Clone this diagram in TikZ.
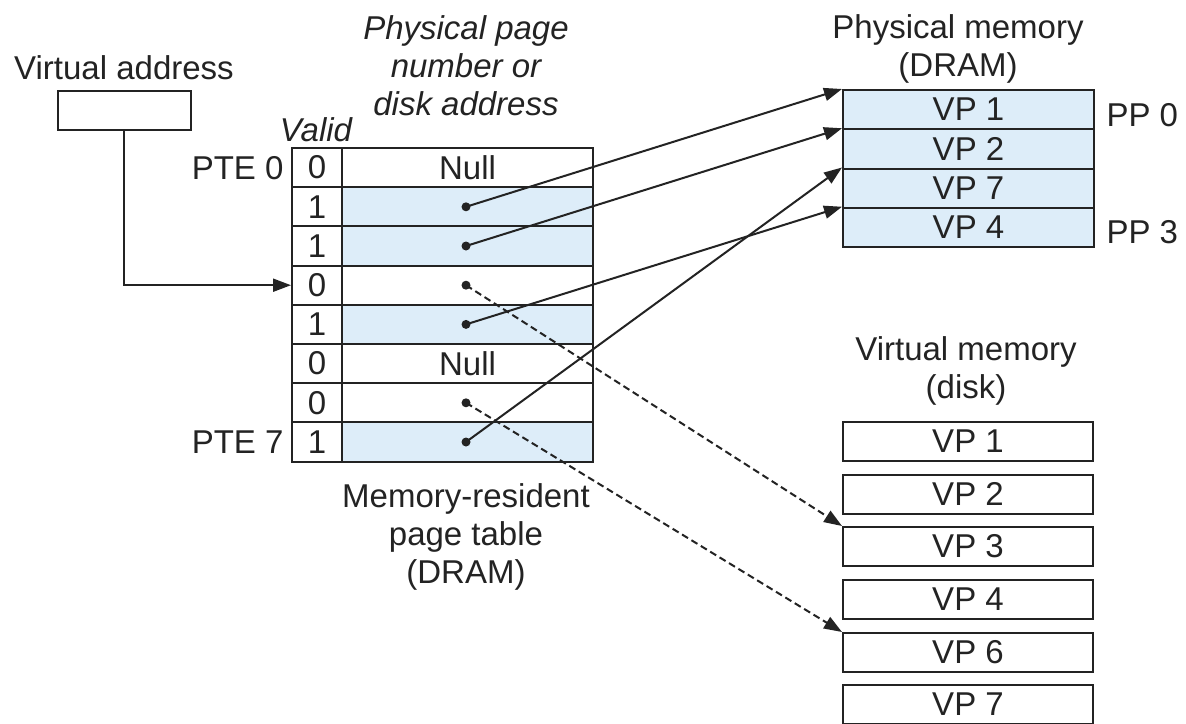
\documentclass[tikz,border=0pt]{standalone}
\usepackage{fontspec}
\setmainfont{Liberation Sans}
\usetikzlibrary{arrows.meta}
\definecolor{cellblue}{RGB}{221,237,249}
\definecolor{ink}{RGB}{35,35,35}
\begin{document}
\begin{tikzpicture}[x=1pt,y=-1pt,
  every node/.style={font=\fontsize{33}{38}\selectfont, text=ink},
  cell/.style={draw=ink, line width=2pt, inner sep=0pt, minimum height=39.2pt},
  vcell/.style={cell, minimum width=50pt},
  acell/.style={cell, minimum width=251pt},
  fcell/.style={acell, fill=cellblue},
  pmem/.style={cell, fill=cellblue, minimum width=251pt, minimum height=39.25pt},
  dmem/.style={cell, minimum width=250pt, minimum height=39pt},
  dot/.style={circle, fill=ink, inner sep=0pt, minimum size=9pt},
  lbl/.style={align=center},
  link/.style={draw=ink, line width=2pt, -{Triangle[length=18pt,width=13pt]}},
  dlink/.style={link, dash pattern=on 7pt off 4pt}
]
\useasboundingbox (0,0) rectangle (1186,723);
\fill[white] (0,0) rectangle (1186,723);

% labels
\node (vatext) at (124,68) {Virtual address};
\node[cell, minimum width=133pt, minimum height=39pt] (va) at (124,110.5) {};
\node[lbl, font=\fontsize{33}{38}\selectfont\itshape] (ppn) at (466,66) {Physical page\\number or\\disk address};
\node[font=\fontsize{33}{38}\selectfont\itshape] (valid) at (316,130) {Valid};

% page table
\foreach \i/\v/\f in {0/0/acell,1/1/fcell,2/1/fcell,3/0/acell,4/1/fcell,5/0/acell,6/0/acell,7/1/fcell}{
  \node[vcell] (v\i) at (317,{148+39.2*(\i+0.5)}) {\v};
  \node[\f] (a\i) at (467.5,{148+39.2*(\i+0.5)}) {};
}
\node at (a0) {Null};
\node at (a5) {Null};
\foreach \i in {1,2,3,4,6,7}{
  \node[dot] (d\i) at (466,{148+39.2*(\i+0.5)}) {};
}
\node[anchor=east] (pte0) at (287,168) {PTE 0};
\node[anchor=east] (pte7) at (287,442) {PTE 7};
\node[lbl] (mrpt) at (466,537) {Memory-resident\\page table\\(DRAM)};

% physical memory
\node[lbl] (pmtext) at (958,49) {Physical memory\\(DRAM)};
\foreach \i/\t in {0/VP 1,1/VP 2,2/VP 7,3/VP 4}{
  \node[pmem] (p\i) at (968.5,{90+39.25*(\i+0.5)}) {\t};
}
\node[anchor=west] (pp0) at (1103,115) {PP 0};
\node[anchor=west] (pp3) at (1103,232) {PP 3};

% virtual memory
\node[lbl] (vmtext) at (966,371) {Virtual memory\\(disk)};
\foreach \i/\t/\y in {1/VP 1/441.5,2/VP 2/494,3/VP 3/546.5,4/VP 4/599.5,5/VP 6/652.5,6/VP 7/704.5}{
  \node[dmem] (k\i) at (968,\y) {\t};
}

% connectors
\draw[link] (va.south) |- (v3.west);
\draw[link] (d1.center) -- (p0.north west);
\draw[link] (d2.center) -- (p1.north west);
\draw[link] (d4.center) -- (p3.north west);
\draw[link] (d7.center) -- (p2.north west);
\draw[dlink] (d3.center) -- (k3.north west);
\draw[dlink] (d6.center) -- (k5.north west);
\end{tikzpicture}
\end{document}
